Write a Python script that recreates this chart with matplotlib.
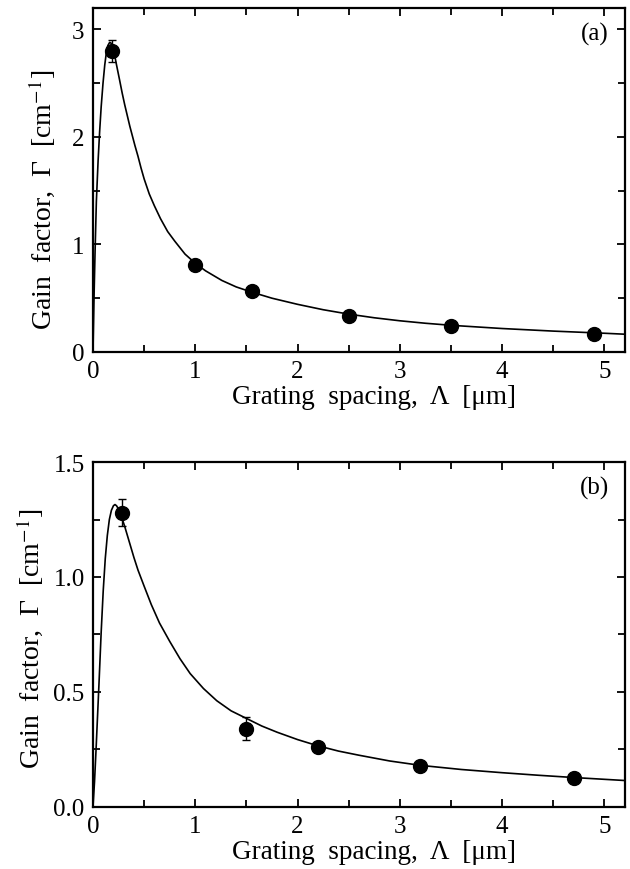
import matplotlib
matplotlib.use("Agg")
import matplotlib.pyplot as plt
from matplotlib.ticker import MultipleLocator, FormatStrFormatter

plt.rcParams['font.family'] = ['Liberation Serif', 'DejaVu Serif']
plt.rcParams['mathtext.fontset'] = 'stix'

# panel (a): measured points
a_x = [0.19, 1.0, 1.55, 2.5, 3.5, 4.9]
a_y = [2.80, 0.81, 0.57, 0.335, 0.24, 0.17]
a_err = [0.10, 0, 0, 0, 0, 0]
# panel (a): fitted curve
a_fit_x = [0, 0.01, 0.02, 0.033, 0.05, 0.065, 0.08, 0.098, 0.115, 0.13, 0.145, 0.163,
           0.175, 0.19, 0.21, 0.228, 0.26, 0.285, 0.31, 0.335, 0.36, 0.385, 0.41, 0.44,
           0.47, 0.5, 0.55, 0.6, 0.66, 0.73, 0.8, 0.9, 1.0, 1.1, 1.26, 1.4, 1.55, 1.75,
           2.0, 2.25, 2.5, 2.75, 3.0, 3.25, 3.5, 4.0, 4.5, 5.0, 5.2]
a_fit_y = [0, 0.50, 0.92, 1.40, 1.78, 2.05, 2.28, 2.50, 2.67, 2.78, 2.85, 2.88,
           2.875, 2.84, 2.77, 2.68, 2.53, 2.41, 2.30, 2.20, 2.10, 2.01, 1.92, 1.82,
           1.71, 1.61, 1.47, 1.36, 1.24, 1.12, 1.03, 0.91, 0.825, 0.755, 0.665, 0.605, 0.557, 0.50,
           0.443, 0.393, 0.352, 0.318, 0.29, 0.267, 0.248, 0.218, 0.194, 0.174, 0.165]

# panel (b): measured points
b_x = [0.28, 1.5, 2.2, 3.2, 4.7]
b_y = [1.28, 0.34, 0.26, 0.18, 0.126]
b_err = [0.06, 0.05, 0, 0, 0]
# panel (b): fitted curve
b_fit_x = [0, 0.015, 0.03, 0.045, 0.06, 0.08, 0.10, 0.12, 0.14, 0.16, 0.18, 0.20, 0.215,
           0.23, 0.25, 0.28, 0.31, 0.34, 0.37, 0.40, 0.44, 0.50, 0.57, 0.65, 0.75, 0.85,
           0.95, 1.08, 1.21, 1.35, 1.5, 1.65, 1.8, 2.0, 2.19, 2.4, 2.6, 2.9, 3.2, 3.6,
           4.0, 4.35, 4.7, 5.2]
b_fit_y = [0, 0.11, 0.25, 0.40, 0.55, 0.76, 0.94, 1.08, 1.18, 1.25, 1.29, 1.31, 1.315,
           1.31, 1.295, 1.26, 1.22, 1.175, 1.13, 1.085, 1.03, 0.96, 0.88, 0.80, 0.72, 0.645,
           0.58, 0.515, 0.462, 0.418, 0.385, 0.352, 0.325, 0.293, 0.267, 0.243, 0.225, 0.20, 0.181, 0.163,
           0.149, 0.138, 0.128, 0.115]

fig = plt.figure(figsize=(6.3, 8.7), dpi=100)
ax_a = fig.add_axes([0.1476, 0.5943, 0.8444, 0.3954])
ax_b = fig.add_axes([0.1476, 0.0713, 0.8444, 0.3965])

panels = [
    (ax_a, a_x, a_y, a_err, a_fit_x, a_fit_y, (0, 3.2), 1, 0.5, '%d', '(a)', (-0.068, 0.445)),
    (ax_b, b_x, b_y, b_err, b_fit_x, b_fit_y, (0, 1.5), 0.5, 0.25, '%.1f', '(b)', (-0.090, 0.49)),
]

for ax, px, py, perr, fx, fy, ylim, ymaj, ymin, yfmt, tag, ylab_pos in panels:
    ax.plot(fx, fy, color='black', lw=1.2)
    ax.errorbar(px, py, yerr=perr, fmt='o', color='black', ms=10,
                elinewidth=1.0, capsize=2.8, capthick=1.0)
    ax.set_xlim(0, 5.2)
    ax.set_ylim(*ylim)
    ax.xaxis.set_major_locator(MultipleLocator(1))
    ax.xaxis.set_minor_locator(MultipleLocator(0.5))
    ax.yaxis.set_major_locator(MultipleLocator(ymaj))
    ax.yaxis.set_minor_locator(MultipleLocator(ymin))
    ax.yaxis.set_major_formatter(FormatStrFormatter(yfmt))
    ax.tick_params(which='both', direction='in', top=True, right=True,
                   labelsize=18, width=1.3, pad=6)
    ax.tick_params(which='major', length=6)
    ax.tick_params(which='minor', length=5)
    for s in ax.spines.values():
        s.set_linewidth(1.6)
    ax.set_xlabel('Grating  spacing,  Λ  [μm]', fontsize=19.5)
    ax.xaxis.set_label_coords(0.528, -0.093)
    ax.set_ylabel('Gain  factor,  Γ  [cm$^{-1}$]', fontsize=20)
    ax.yaxis.set_label_coords(*ylab_pos)
    ax.text(0.97, 0.96, tag, transform=ax.transAxes, ha='right', va='top', fontsize=18)

fig.savefig('out.png', dpi=100)
